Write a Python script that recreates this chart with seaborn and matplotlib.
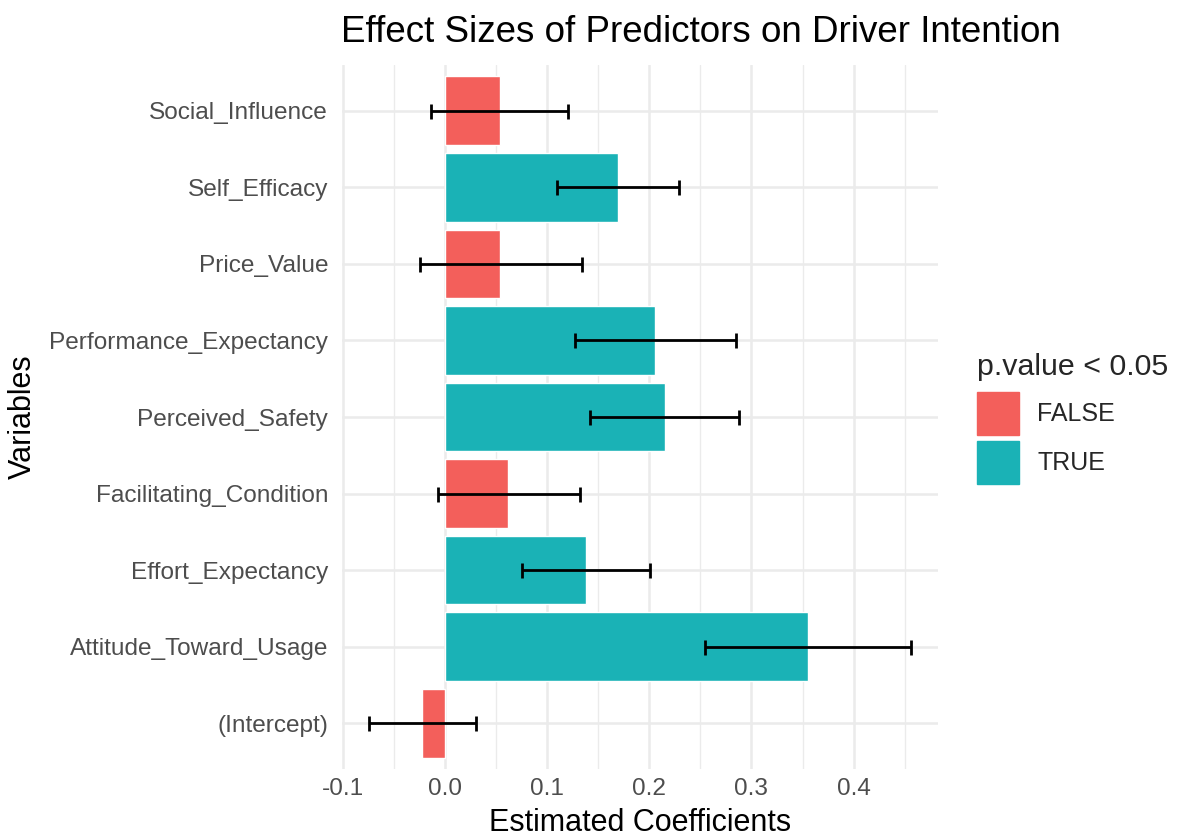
import matplotlib
matplotlib.use("Agg")
import matplotlib.pyplot as plt
import matplotlib.patches as mpatches
import seaborn as sns
import numpy as np
import pandas as pd

# Data (top to bottom)
variables = ["Social_Influence", "Self_Efficacy", "Price_Value", "Performance_Expectancy",
             "Perceived_Safety", "Facilitating_Condition", "Effort_Expectancy",
             "Attitude_Toward_Usage", "(Intercept)"]
estimates = [0.054, 0.169, 0.054, 0.206, 0.215, 0.062, 0.138, 0.355, -0.022]
ci_low = [-0.013, 0.110, -0.024, 0.127, 0.142, -0.007, 0.076, 0.255, -0.074]
ci_high = [0.121, 0.229, 0.134, 0.285, 0.288, 0.132, 0.201, 0.456, 0.031]
significant = ["FALSE", "TRUE", "FALSE", "TRUE", "TRUE", "FALSE", "TRUE", "TRUE", "FALSE"]

colors = {"FALSE": "#F35F5B", "TRUE": "#1AB2B6"}

df = pd.DataFrame({"variable": variables, "estimate": estimates,
                   "low": ci_low, "high": ci_high, "sig": significant})

sns.set_theme(style="whitegrid")
plt.rcParams["font.family"] = ["Liberation Sans", "DejaVu Sans"]

W, H = 1178, 840
fig = plt.figure(figsize=(W / 100, H / 100), dpi=100)
# panel placed like the ggplot panel in the reference
ax = fig.add_axes([342 / W, 1 - 769 / H, (938 - 342) / W, (769 - 65) / H])

sns.barplot(data=df, y="variable", x="estimate", hue="sig", palette=colors,
            order=variables, hue_order=["FALSE", "TRUE"], dodge=False,
            width=0.9, saturation=1, legend=False, ax=ax, errorbar=None)

ypos = np.arange(len(variables))
est = df["estimate"].to_numpy()
ax.errorbar(est, ypos, xerr=[est - df["low"].to_numpy(), df["high"].to_numpy() - est],
            fmt="none", ecolor="black", elinewidth=2.0, capsize=5.4, capthick=2.0, zorder=5)

# ggplot-like minimal theme
ax.set_xlim(-0.1005, 0.4825)
ax.set_ylim(len(variables) - 0.4, -0.6)
ax.set_xticks([-0.1, 0.0, 0.1, 0.2, 0.3, 0.4])
ax.set_xticklabels(["-0.1", "0.0", "0.1", "0.2", "0.3", "0.4"])
ax.set_xticks(np.arange(-0.05, 0.48, 0.1), minor=True)
ax.grid(True, which="major", color="#EBEBEB", linewidth=1.8)
ax.grid(True, which="minor", axis="x", color="#EBEBEB", linewidth=1.0)
ax.set_axisbelow(True)
for s in ax.spines.values():
    s.set_visible(False)
ax.set_facecolor("white")
ax.tick_params(axis="both", which="both", length=0, labelsize=17.6, labelcolor="#4D4D4D")
ax.tick_params(axis="y", pad=10)
ax.tick_params(axis="x", pad=6.8)

ax.set_xlabel("Estimated Coefficients", fontsize=22, color="black")
ax.xaxis.set_label_coords(0.5, (769 - 808) / 704)
ax.set_ylabel("Variables", fontsize=22, color="black")
ax.yaxis.set_label_coords((38 - 342) / 596, 0.5)

fig.text(341 / W, 1 - 42 / H, "Effect Sizes of Predictors on Driver Intention",
         fontsize=26.5, color="black", ha="left", va="baseline")

handles = [mpatches.Patch(color=colors[k], label=k) for k in ["FALSE", "TRUE"]]
leg = fig.legend(handles=handles, title="p.value < 0.05", loc="upper left",
                 bbox_to_anchor=(977 / W, 1 - 353 / H), frameon=False,
                 fontsize=18, title_fontsize=21.9, handlelength=1.68, handleheight=2.27,
                 labelspacing=0.24, handletextpad=0.72, borderpad=0, borderaxespad=0,
                 alignment="left")
leg._legend_box.sep = 8  # gap between legend title and keys (points)

fig.savefig("out.png", dpi=100)
